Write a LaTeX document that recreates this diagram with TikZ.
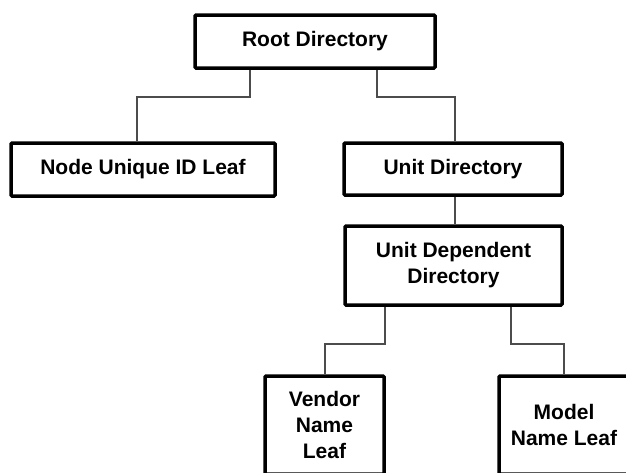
\documentclass[tikz,border=0pt]{standalone}
\usepackage{fontspec}
\setmainfont{Liberation Sans}
\begin{document}
\begin{tikzpicture}[x=1pt,y=-1pt,
  box/.style={draw=black, line width=3.5pt, rounded corners=1pt, fill=white,
    font=\fontsize{21}{26}\selectfont\bfseries, align=center, inner sep=0pt},
  conn/.style={draw=black!70, line width=1.2pt}]
\fill[white] (0,0) rectangle (626,472);
\useasboundingbox (0,0) rectangle (626,472);
\clip (0,0) rectangle (626,472);
\node[box, minimum width=240pt, minimum height=53pt] (root) at (315,41.5) {Root Directory};
\node[box, minimum width=264pt, minimum height=53pt] (nuid) at (143,169.5) {Node Unique ID Leaf};
\node[box, minimum width=218pt, minimum height=52pt] (ud) at (453,169) {Unit Directory};
\node[box, minimum width=217pt, minimum height=79pt] (udd) at (453.5,265.5) {Unit Dependent\\Directory};
\node[box, minimum width=119pt, minimum height=98pt] (vendor) at (324.5,425) {Vendor\\Name\\Leaf};
\node[box, minimum width=130pt, minimum height=98pt] (model) at (564,425) {Model\\Name Leaf};
\coordinate (a1) at (250,97);
\coordinate (a2) at (137,97);
\coordinate (b1) at (377,97);
\coordinate (b2) at (455,97);
\coordinate (c1) at (385,344);
\coordinate (c2) at (325,344);
\coordinate (d1) at (511,344);
\coordinate (d2) at (564,344);
\draw[conn] (root.south -| a1) -- (a1) -- (a2) -- (a2 |- nuid.north);
\draw[conn] (root.south -| b1) -- (b1) -- (b2) -- (b2 |- ud.north);
\draw[conn] (ud.south -| b2) -- (b2 |- udd.north);
\draw[conn] (udd.south -| c1) -- (c1) -- (c2) -- (c2 |- vendor.north);
\draw[conn] (udd.south -| d1) -- (d1) -- (d2) -- (d2 |- model.north);
\end{tikzpicture}
\end{document}
